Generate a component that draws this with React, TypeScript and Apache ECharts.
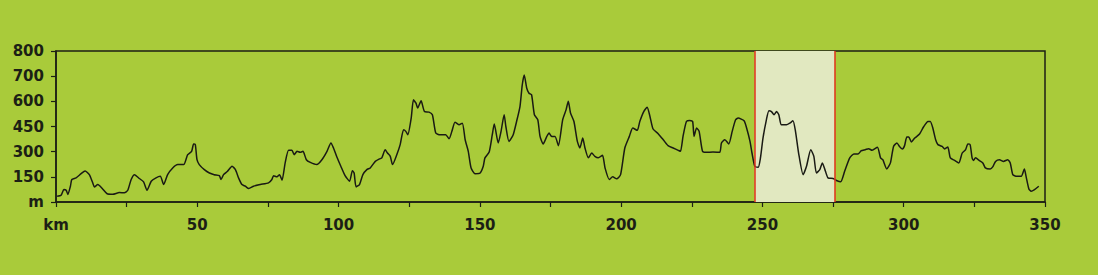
import React, { useEffect, useRef } from "react";
import * as echarts from "echarts";

const KM = [
  0.4, 1.8, 2.8, 3.6, 4.2, 5.1, 5.6, 7.1, 8.9, 10.3, 11.8, 13.0, 13.6, 14.8, 16.5, 18.1, 20.1, 22.4, 24.2, 25.4,
  26.6, 27.8, 29.5, 31.0, 32.2, 33.7, 35.4, 36.9, 38.1, 39.5, 41.3, 43.1, 45.2, 46.6, 48.0, 48.7, 49.3, 49.9, 50.7, 52.5,
  54.3, 56.0, 57.8, 58.4, 59.3, 60.7, 62.3, 63.5, 64.6, 65.8, 67.0, 68.2, 69.9, 72.3, 75.2, 76.4, 77.0, 78.2, 79.1, 80.0,
  81.1, 82.3, 83.5, 84.3, 85.3, 86.4, 87.4, 88.6, 90.0, 92.3, 94.1, 95.9, 97.3, 98.2, 99.4, 100.8, 102.3, 103.9, 104.9, 105.5,
  106.2, 107.4, 108.6, 110.0, 111.2, 113.0, 114.5, 115.3, 116.5, 117.3, 118.3, 119.1, 120.6, 121.8, 123.0, 123.8, 124.5, 125.7, 126.5, 127.4,
  128.0, 129.2, 130.4, 132.0, 133.2, 134.4, 135.9, 137.9, 139.1, 140.1, 141.2, 142.6, 143.8, 144.8, 145.9, 146.9, 148.3, 150.1, 151.2, 151.8,
  153.3, 154.4, 155.1, 156.5, 157.5, 158.6, 159.2, 160.3, 161.8, 163.0, 164.2, 165.0, 165.7, 166.6, 167.4, 168.3, 169.3, 170.5, 171.3, 172.4,
  173.7, 174.5, 175.4, 176.6, 177.8, 179.3, 180.5, 181.3, 182.1, 183.3, 184.5, 185.4, 186.4, 187.2, 188.4, 189.6, 190.7, 191.9, 193.4, 194.3,
  195.8, 197.0, 198.4, 199.8, 201.3, 202.9, 204.1, 205.7, 206.6, 208.0, 209.2, 210.2, 211.3, 213.1, 214.9, 216.6, 218.4, 220.2, 221.0, 221.9,
  223.1, 224.3, 225.3, 225.8, 226.7, 227.6, 228.8, 230.2, 232.5, 234.9, 235.5, 236.7, 238.1, 239.3, 240.5, 241.4, 243.5, 244.4, 245.6, 246.3,
  247.3, 248.5, 249.3, 250.2, 251.4, 252.3, 253.2, 254.1, 255.0, 255.8, 256.7, 258.5, 259.7, 260.8, 261.7, 262.8, 264.4, 265.6, 267.1, 268.2,
  269.1, 270.3, 271.2, 272.3, 273.2, 275.0, 276.2, 277.7, 279.1, 280.9, 282.4, 283.8, 285.0, 286.4, 287.6, 288.8, 290.7, 291.8, 292.6, 294.0,
  295.3, 296.4, 297.6, 298.5, 299.5, 300.3, 301.1, 301.8, 302.7, 303.9, 305.6, 307.0, 308.6, 309.4, 310.3, 311.3, 312.1, 313.6, 314.5, 315.6,
  316.5, 318.0, 319.5, 320.7, 321.9, 322.7, 323.5, 324.2, 324.7, 325.4, 326.8, 328.0, 328.9, 330.6, 331.5, 332.5, 333.9, 335.3, 336.8, 337.7,
  338.6, 340.0, 341.6, 342.7, 343.3, 344.3, 345.1, 346.3, 347.8,
];

const ELEV = [
  34, 40, 74, 70, 45, 94, 134, 144, 169, 185, 163, 114, 90, 104, 78, 49, 46, 56, 55, 70,
  134, 162, 140, 120, 70, 124, 144, 153, 104, 163, 203, 223, 223, 282, 302, 346, 342, 252, 223, 193,
  173, 163, 157, 134, 163, 183, 213, 193, 144, 104, 94, 80, 94, 104, 114, 134, 157, 150, 163, 130,
  233, 308, 308, 282, 302, 296, 302, 252, 236, 223, 252, 302, 352, 322, 268, 213, 157, 124, 187, 173,
  90, 104, 163, 193, 203, 242, 257, 263, 312, 292, 272, 223, 282, 342, 431, 421, 401, 500, 606, 589,
  560, 602, 539, 536, 520, 411, 401, 401, 377, 421, 476, 460, 470, 371, 302, 203, 169, 173, 213, 263,
  298, 401, 465, 352, 421, 520, 450, 361, 401, 480, 569, 665, 705, 652, 632, 626, 520, 490, 391, 346,
  391, 411, 391, 391, 336, 490, 549, 600, 530, 480, 361, 322, 381, 322, 263, 292, 272, 263, 278, 203,
  134, 150, 138, 163, 322, 391, 441, 427, 480, 539, 565, 510, 435, 407, 371, 336, 322, 308, 302, 391,
  480, 486, 480, 391, 441, 421, 302, 296, 298, 296, 352, 371, 346, 421, 490, 500, 484, 441, 361, 292,
  213, 207, 263, 381, 490, 544, 539, 520, 539, 520, 460, 460, 470, 484, 421, 292, 163, 213, 312, 272,
  173, 193, 233, 183, 144, 140, 128, 120, 183, 263, 286, 286, 306, 312, 318, 308, 326, 263, 252, 197,
  233, 331, 352, 331, 316, 336, 387, 387, 358, 381, 405, 447, 480, 480, 441, 371, 342, 331, 316, 328,
  263, 248, 233, 292, 312, 346, 342, 263, 248, 263, 247, 233, 203, 197, 209, 242, 252, 242, 252, 233,
  163, 153, 153, 197, 153, 78, 64, 74, 94,
];

// Tick labels as printed on the elevation axis (evenly spaced on the chart)
const Y_TICK_LABELS = ["m", "150", "300", "450", "600", "700", "800"];
const Y_TICK_VALUES = [0, 150, 300, 450, 600, 700, 800];
const X_LABEL_ZERO = "km";
const HIGHLIGHT_KM = [247.3, 275.6];

// map metres to the chart's evenly spaced tick positions (piecewise linear)
function toAxis(m: number): number {
  for (let i = 1; i < Y_TICK_VALUES.length; i++) {
    const a = Y_TICK_VALUES[i - 1];
    const b = Y_TICK_VALUES[i];
    if (m <= b || i === Y_TICK_VALUES.length - 1) {
      return i - 1 + (m - a) / (b - a);
    }
  }
  return 0;
}

export default function App() {
  const ref = useRef<HTMLDivElement>(null);
  useEffect(() => {
    if (!ref.current) return;
    const chart = echarts.init(ref.current, undefined, { renderer: "svg" });
    const dark = "#1c1f15";
    const font = "DejaVu Sans";
    chart.setOption({
      animation: false,
      backgroundColor: "#a9cb3a",
      grid: {
        left: 56,
        right: 53,
        top: 51,
        bottom: 73,
        show: true,
        borderColor: dark,
        borderWidth: 1.5,
        backgroundColor: "transparent",
      },
      xAxis: {
        type: "value",
        min: 0,
        max: 350,
        interval: 25,
        axisLine: { show: true, lineStyle: { color: dark, width: 1.5 } },
        axisTick: { show: true, length: 5, lineStyle: { color: dark, width: 1.2 } },
        splitLine: { show: false },
        axisLabel: {
          color: dark,
          fontFamily: font,
          fontWeight: "bold",
          fontSize: 15,
          margin: 15,
          formatter: (v: number) => (v === 0 ? X_LABEL_ZERO : v % 50 === 0 ? String(v) : ""),
        },
      },
      yAxis: {
        type: "value",
        min: 0,
        max: Y_TICK_LABELS.length - 1,
        interval: 1,
        axisLine: { show: true, lineStyle: { color: dark, width: 1.5 } },
        axisTick: { show: true, length: 5, lineStyle: { color: dark, width: 1.2 } },
        splitLine: { show: false },
        axisLabel: {
          color: dark,
          fontFamily: font,
          fontWeight: "bold",
          fontSize: 15,
          margin: 12,
          formatter: (v: number) => Y_TICK_LABELS[Math.round(v)] ?? "",
        },
      },
      series: [
        {
          type: "line",
          data: KM.map((k, i) => [k, toAxis(ELEV[i])]),
          showSymbol: false,
          smooth: 0.2,
          lineStyle: { color: "#1a1a14", width: 1.5 },
          markArea: {
            silent: true,
            itemStyle: { color: "#e1e8c0" },
            data: [[{ xAxis: HIGHLIGHT_KM[0] }, { xAxis: HIGHLIGHT_KM[1] }]],
          },
          markLine: {
            silent: true,
            symbol: "none",
            label: { show: false },
            lineStyle: { color: "#e2321e", width: 1.5, type: "solid" },
            data: [{ xAxis: HIGHLIGHT_KM[0] }, { xAxis: HIGHLIGHT_KM[1] }],
          },
        },
      ],
    });
    return () => chart.dispose();
  }, []);
  return (
    <div
      ref={ref}
      style={{ position: "fixed", left: 0, top: 0, width: 1098, height: 275 }}
    />
  );
}
